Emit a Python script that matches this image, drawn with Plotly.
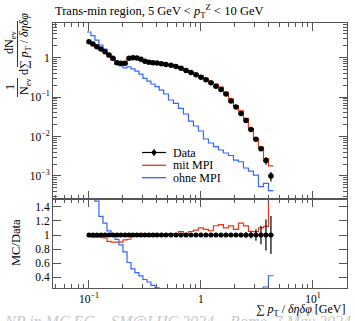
import numpy as np
import plotly.graph_objects as go

# ---------------- data ----------------
x_centers = [0.100, 0.1086, 0.1178, 0.128, 0.139, 0.151, 0.164, 0.178, 0.193, 0.210,
             0.228, 0.247, 0.268, 0.291, 0.316, 0.343, 0.373, 0.405, 0.444, 0.487,
             0.540, 0.598, 0.663, 0.735, 0.814, 0.902, 1.0, 1.108, 1.228, 1.361,
             1.509, 1.672, 1.853, 2.054, 2.276, 2.523, 2.795, 3.098, 3.434, 3.805, 4.217]

data_vals = [2.55, 2.23, 1.90, 1.66, 1.42, 1.17, 0.966, 0.747, 0.721, 0.721,
             0.966, 1.0, 0.983, 0.911, 0.810, 0.764, 0.747, 0.734, 0.700, 0.672,
             0.645, 0.598, 0.541, 0.473, 0.419, 0.368, 0.320, 0.275, 0.231, 0.190,
             0.156, 0.120, 0.0796, 0.0561, 0.0384, 0.0255, 0.0151, 0.00849, 0.00490, 0.00246, 0.000994]

data_relerr = [0.01] * 28 + [0.015, 0.015, 0.015, 0.015, 0.02, 0.025, 0.03, 0.04, 0.05, 0.08, 0.13, 0.22, 0.27]

mit_mpi = [2.50, 2.16, 1.84, 1.61, 1.36, 1.065, 0.869, 0.672, 0.649, 0.671,
           0.908, 1.0, 0.983, 0.902, 0.794, 0.756, 0.747, 0.727, 0.693, 0.672,
           0.658, 0.610, 0.568, 0.482, 0.440, 0.394, 0.352, 0.297, 0.245, 0.215,
           0.179, 0.132, 0.0899, 0.0606, 0.0449, 0.0288, 0.0159, 0.00891, 0.00539, 0.00276, 0.00179]

ohne_mpi = [4.49, 3.62, 2.81, 2.10, 1.66, 1.24, 0.966, 0.70, 0.62, 0.55,
            0.59, 0.52, 0.459, 0.385, 0.300, 0.256, 0.215, 0.184, 0.151, 0.120,
            0.0844, 0.0697, 0.0520, 0.0373, 0.0247, 0.0185, 0.0138, 0.00865, 0.00684, 0.00551,
            0.00454, 0.00381, 0.00330, 0.00253, 0.00229, 0.00159, 0.00133, 0.00105, 0.000532, 0.000649, 0.000421]

x_tickvals = [0.1, 1, 10]
x_ticktext = ["10<sup>−1</sup>", "1", "10<sup>1</sup>"]
y_tickvals = [1e-3, 1e-2, 1e-1, 1]
y_ticktext = ["10<sup>−3</sup>", "10<sup>−2</sup>", "10<sup>−1</sup>", "1"]
r_tickvals = [0.4, 0.6, 0.8, 1.0, 1.2, 1.4]
r_ticktext = ["0.4", "0.6", "0.8", "1", "1.2", "1.4"]

title_text = "Trans-min region, 5 GeV < <i>p</i><sub>T</sub><sup>Z</sup> < 10 GeV"
footer_text = "NP in MC EG – SM@LHC 2024 – Rome, 7 May 2024"

# ---------------- derived ----------------
xc = np.array(x_centers)
d = np.array(data_vals)
lx = np.log10(xc)
mid = (lx[:-1] + lx[1:]) / 2
edges = 10 ** np.concatenate([[lx[0] - (lx[1] - lx[0]) / 2], mid, [lx[-1] + (lx[-1] - lx[-2]) / 2]])
err = np.array(data_relerr) * d
ex_plus = edges[1:] - xc
ex_minus = xc - edges[:-1]

RED = "#EE3311"
BLUE = "#3366FF"
FONT = "Liberation Serif"
AX = "#555555"

def step(vals):
    v = list(vals)
    return list(edges), v + [v[-1]]

fig = go.Figure()

for vals, col in [(mit_mpi, RED), (ohne_mpi, BLUE)]:
    sx, sy = step(vals)
    fig.add_trace(go.Scatter(x=sx, y=sy, mode="lines", line=dict(color=col, width=1.2, shape="hv"),
                             showlegend=False, xaxis="x", yaxis="y", hoverinfo="skip"))
    rsx, rsy = step(np.array(vals) / d)
    fig.add_trace(go.Scatter(x=rsx, y=rsy, mode="lines", line=dict(color=col, width=1.2, shape="hv"),
                             showlegend=False, xaxis="x2", yaxis="y2", hoverinfo="skip"))

fig.add_trace(go.Scatter(x=xc, y=d, mode="markers", marker=dict(color="black", size=5.5),
                         error_y=dict(type="data", array=err, color="black", thickness=1.2, width=0),
                         error_x=dict(type="data", array=ex_plus, arrayminus=ex_minus, color="black", thickness=1.2, width=0),
                         showlegend=False, xaxis="x", yaxis="y"))
fig.add_trace(go.Scatter(x=xc, y=np.ones_like(d), mode="markers", marker=dict(color="black", size=5),
                         error_y=dict(type="data", array=np.array(data_relerr), color="black", thickness=1.2, width=0),
                         error_x=dict(type="data", array=ex_plus, arrayminus=ex_minus, color="black", thickness=1.2, width=0),
                         showlegend=False, xaxis="x2", yaxis="y2"))

def minor_log(lo, hi):
    out = []
    for e in range(lo, hi):
        for m in range(2, 10):
            out.append(m * 10 ** e)
    return out

W, H = 355, 321
L, R, T, B = 53, 8, 23, 33
PH = H - T - B
split = (288 - 199) / PH

def px2x(p):
    return (p - L) / (W - L - R)

def px2y(p):
    return (H - B - p) / PH

axis_common = dict(showline=True, linecolor=AX, linewidth=1, mirror="allticks", ticks="inside",
                   tickcolor=AX, ticklen=8, tickwidth=1, showgrid=False, zeroline=False,
                   tickfont=dict(family=FONT, size=11.5, color="black"))

fig.update_layout(
    width=W, height=H, margin=dict(l=L, r=R, t=T, b=B),
    paper_bgcolor="white", plot_bgcolor="white", showlegend=False,
    xaxis=dict(type="log", range=[-1.321, 1.304], domain=[0, 1], anchor="y", showticklabels=False,
               tickmode="array", tickvals=x_tickvals,
               minor=dict(tickmode="array", tickvals=minor_log(-2, 2), ticks="inside", ticklen=4, tickcolor=AX),
               **axis_common),
    yaxis=dict(type="log", range=[-3.586, 0.881], domain=[split, 1], anchor="x",
               tickmode="array", tickvals=y_tickvals, ticktext=y_ticktext,
               minor=dict(tickmode="array", tickvals=minor_log(-4, 1), ticks="inside", ticklen=4, tickcolor=AX),
               **axis_common),
    xaxis2=dict(type="log", range=[-1.321, 1.304], domain=[0, 1], anchor="y2", matches="x",
                tickmode="array", tickvals=x_tickvals, ticktext=x_ticktext,
                minor=dict(tickmode="array", tickvals=minor_log(-2, 2), ticks="inside", ticklen=4, tickcolor=AX),
                **axis_common),
    yaxis2=dict(range=[0.25, 1.51], domain=[0, split], anchor="x2",
                tickmode="array", tickvals=r_tickvals, ticktext=r_ticktext,
                **axis_common),
)

ann = []
tf = dict(family=FONT, color="black")
ann.append(dict(text=title_text, x=px2x(53), y=px2y(11), xanchor="left", yanchor="middle",
                font=dict(tf, size=12.5)))
# y-axis title (fractions)
ann.append(dict(text="1", x=px2x(10), y=px2y(87), textangle=-90, font=dict(tf, size=12)))
ann.append(dict(text="N<sub>ev</sub>", x=px2x(25), y=px2y(87), textangle=-90, font=dict(tf, size=12)))
ann.append(dict(text="dN<sub>ev</sub>", x=px2x(10), y=px2y(43), textangle=-90, font=dict(tf, size=12)))
ann.append(dict(text="d∑ <i>p</i><sub>T</sub> / <i>δηδφ</i>", x=px2x(25), y=px2y(44), textangle=-90,
                font=dict(tf, size=12)))
ann.append(dict(text="MC/Data", x=px2x(16), y=px2y(243), textangle=-90, font=dict(tf, size=12.5)))
ann.append(dict(text="∑ <i>p</i><sub>T</sub> / <i>δηδφ</i> [GeV]", x=px2x(347), y=px2y(309.5),
                xanchor="right", yanchor="middle", font=dict(tf, size=12)))
ann.append(dict(text="<i>" + footer_text + "</i>", x=px2x(2), y=px2y(310.5), xanchor="left", yanchor="top",
                font=dict(family=FONT, size=16, color="#c8c8c8")))
# legend
leg = [("Data", "black", 152.5), ("mit MPI", RED, 165.3), ("ohne MPI", BLUE, 177.7)]
shapes = []
for name, col, yy in leg:
    ann.append(dict(text=name, x=px2x(171), y=px2y(yy), xanchor="left", yanchor="middle", font=dict(tf, size=12)))
    shapes.append(dict(type="line", xref="paper", yref="paper", x0=px2x(142), x1=px2x(166),
                       y0=px2y(yy), y1=px2y(yy), line=dict(color=col, width=1.3 if col != "black" else 1.2)))
shapes.append(dict(type="line", xref="paper", yref="paper", x0=px2x(154), x1=px2x(154),
                   y0=px2y(149), y1=px2y(156), line=dict(color="black", width=1.2)))
shapes.append(dict(type="circle", xref="paper", yref="paper", x0=px2x(151.7), x1=px2x(156.3),
                   y0=px2y(150.2), y1=px2y(154.8), fillcolor="black", line=dict(color="black", width=0)))
# fraction bars of the y title
shapes.append(dict(type="line", xref="paper", yref="paper", x0=px2x(17.5), x1=px2x(17.5),
                   y0=px2y(78), y1=px2y(97), line=dict(color="black", width=0.8)))
shapes.append(dict(type="line", xref="paper", yref="paper", x0=px2x(17.5), x1=px2x(17.5),
                   y0=px2y(21), y1=px2y(67), line=dict(color="black", width=0.8)))
for a in ann:
    a.update(xref="paper", yref="paper", showarrow=False)
    a.setdefault("xanchor", "center")
    a.setdefault("yanchor", "middle")
fig.update_layout(annotations=ann, shapes=shapes)

fig.write_html("out.html")
